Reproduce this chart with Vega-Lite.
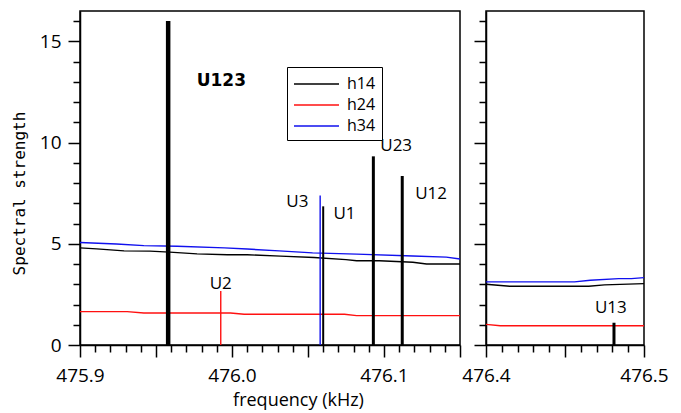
{
  "$schema": "https://vega.github.io/schema/vega-lite/v6.json",
  "padding": {"left": 10, "top": 10, "right": 5, "bottom": 5},
  "background": "white",
  "datasets": {
    "curves": [
      {"freq": 475.9, "value": 5.06, "series": "h34"},
      {"freq": 475.924, "value": 4.99, "series": "h34"},
      {"freq": 475.942, "value": 4.91, "series": "h34"},
      {"freq": 475.964, "value": 4.88, "series": "h34"},
      {"freq": 475.995, "value": 4.80, "series": "h34"},
      {"freq": 476.010, "value": 4.74, "series": "h34"},
      {"freq": 476.031, "value": 4.65, "series": "h34"},
      {"freq": 476.053, "value": 4.55, "series": "h34"},
      {"freq": 476.082, "value": 4.49, "series": "h34"},
      {"freq": 476.119, "value": 4.40, "series": "h34"},
      {"freq": 476.141, "value": 4.34, "series": "h34"},
      {"freq": 476.15, "value": 4.25, "series": "h34"},
      {"freq": 475.9, "value": 4.80, "series": "h14"},
      {"freq": 475.911, "value": 4.75, "series": "h14"},
      {"freq": 475.929, "value": 4.65, "series": "h14"},
      {"freq": 475.946, "value": 4.64, "series": "h14"},
      {"freq": 475.959, "value": 4.59, "series": "h14"},
      {"freq": 475.977, "value": 4.50, "series": "h14"},
      {"freq": 475.997, "value": 4.46, "series": "h14"},
      {"freq": 476.010, "value": 4.46, "series": "h14"},
      {"freq": 476.032, "value": 4.39, "series": "h14"},
      {"freq": 476.054, "value": 4.32, "series": "h14"},
      {"freq": 476.075, "value": 4.22, "series": "h14"},
      {"freq": 476.082, "value": 4.16, "series": "h14"},
      {"freq": 476.097, "value": 4.16, "series": "h14"},
      {"freq": 476.119, "value": 4.09, "series": "h14"},
      {"freq": 476.128, "value": 4.00, "series": "h14"},
      {"freq": 476.15, "value": 4.00, "series": "h14"},
      {"freq": 475.9, "value": 1.65, "series": "h24"},
      {"freq": 475.931, "value": 1.65, "series": "h24"},
      {"freq": 475.942, "value": 1.58, "series": "h24"},
      {"freq": 475.999, "value": 1.58, "series": "h24"},
      {"freq": 476.008, "value": 1.52, "series": "h24"},
      {"freq": 476.074, "value": 1.52, "series": "h24"},
      {"freq": 476.082, "value": 1.45, "series": "h24"},
      {"freq": 476.15, "value": 1.45, "series": "h24"},
      {"freq": 476.4, "value": 3.12, "series": "h34"},
      {"freq": 476.456, "value": 3.12, "series": "h34"},
      {"freq": 476.466, "value": 3.20, "series": "h34"},
      {"freq": 476.484, "value": 3.28, "series": "h34"},
      {"freq": 476.492, "value": 3.28, "series": "h34"},
      {"freq": 476.5, "value": 3.33, "series": "h34"},
      {"freq": 476.4, "value": 3.00, "series": "h14"},
      {"freq": 476.415, "value": 2.90, "series": "h14"},
      {"freq": 476.465, "value": 2.90, "series": "h14"},
      {"freq": 476.475, "value": 2.97, "series": "h14"},
      {"freq": 476.5, "value": 3.03, "series": "h14"},
      {"freq": 476.4, "value": 1.02, "series": "h24"},
      {"freq": 476.409, "value": 0.95, "series": "h24"},
      {"freq": 476.5, "value": 0.95, "series": "h24"}
    ],
    "peaks": [
      {"freq": 475.958, "value": 16.0, "series": "h14", "label": "U123"},
      {"freq": 475.9926, "value": 2.67, "series": "h24", "label": "U2"},
      {"freq": 476.058, "value": 7.39, "series": "h34", "label": "U3"},
      {"freq": 476.060, "value": 6.85, "series": "h14", "label": "U1"},
      {"freq": 476.093, "value": 9.32, "series": "h14", "label": "U23"},
      {"freq": 476.112, "value": 8.35, "series": "h14", "label": "U12"},
      {"freq": 476.481, "value": 1.10, "series": "h14", "label": "U13"}
    ],
    "labels": [
      {"freq": 475.993, "value": 13.02, "label": "U123"},
      {"freq": 475.9926, "value": 3.02, "label": "U2"},
      {"freq": 476.043, "value": 7.08, "label": "U3"},
      {"freq": 476.074, "value": 6.49, "label": "U1"},
      {"freq": 476.108, "value": 9.85, "label": "U23"},
      {"freq": 476.131, "value": 7.48, "label": "U12"},
      {"freq": 476.479, "value": 1.83, "label": "U13"}
    ]
  },
  "hconcat": [
    {
      "width": 380,
      "height": 334,
      "encoding": {
        "x": {
          "field": "freq", "type": "quantitative",
          "scale": {"domain": [475.9, 476.15], "nice": false, "zero": false},
          "axis": {
            "title": "frequency (kHz)",
            "titleX": 218,
            "titleFont": "Open Sans", "titleFontSize": 18, "titleFontWeight": "normal",
            "titlePadding": 6,
            "values": [475.9, 475.91, 475.92, 475.93, 475.94, 475.95, 475.96, 475.97, 475.98, 475.99, 476.0, 476.01, 476.02, 476.03, 476.04, 476.05, 476.06, 476.07, 476.08, 476.09, 476.1, 476.11, 476.12, 476.13, 476.14, 476.15],
            "tickSize": {"condition": {"test": "abs(datum.value*20 - round(datum.value*20)) < 0.01", "value": 12}, "value": 7},
            "labelExpr": "abs(datum.value*10 - round(datum.value*10)) < 0.01 ? format(datum.value, '.1f') : ''",
            "labelPadding": 9
          }
        },
        "y": {
          "field": "value", "type": "quantitative",
          "scale": {"domain": [0, 16.5], "nice": false},
          "axis": {
            "title": "Spectral strength",
            "titleFont": "DejaVu Sans Mono", "titleFontSize": 16, "titleFontWeight": "normal",
            "titlePadding": 12,
            "titleY": 182,
            "values": [0, 1, 2, 3, 4, 5, 6, 7, 8, 9, 10, 11, 12, 13, 14, 15, 16],
            "tickSize": {"condition": {"test": "datum.value % 5 == 0", "value": 12}, "value": 7},
            "labelExpr": "datum.value % 5 == 0 ? datum.label : ''",
            "labelPadding": 7
          }
        }
      },
      "layer": [
        {
          "data": {"name": "curves"},
          "transform": [{"filter": "datum.freq < 476.3"}],
          "mark": {"type": "line", "strokeWidth": 1.4},
          "encoding": {
            "color": {
              "field": "series", "type": "nominal",
              "scale": {"domain": ["h14", "h24", "h34"], "range": ["#000000", "#ff1010", "#1010ee"]},
              "legend": {
                "title": null, "orient": "none", "legendX": 207, "legendY": 56,
                "symbolType": "M-1,0H3.5", "symbolSize": 400, "symbolStrokeWidth": 1.4,
                "labelFont": "Open Sans", "labelFontSize": 16, "labelColor": "black",
                "labelOffset": 32, "rowPadding": 2, "padding": 6,
                "strokeColor": "black", "fillColor": "white"
              }
            }
          }
        },
        {
          "data": {"name": "peaks"},
          "transform": [{"filter": "datum.label == 'U123'"}],
          "mark": {"type": "rule", "strokeWidth": 4.5},
          "encoding": {"y2": {"datum": 0}, "color": {"field": "series", "type": "nominal"}}
        },
        {
          "data": {"name": "peaks"},
          "transform": [{"filter": "datum.label == 'U23' || datum.label == 'U12'"}],
          "mark": {"type": "rule", "strokeWidth": 3},
          "encoding": {"y2": {"datum": 0}, "color": {"field": "series", "type": "nominal"}}
        },
        {
          "data": {"name": "peaks"},
          "transform": [{"filter": "datum.label == 'U1'"}],
          "mark": {"type": "rule", "strokeWidth": 2},
          "encoding": {"y2": {"datum": 0}, "color": {"field": "series", "type": "nominal"}}
        },
        {
          "data": {"name": "peaks"},
          "transform": [{"filter": "datum.label == 'U3' || datum.label == 'U2'"}],
          "mark": {"type": "rule", "strokeWidth": 1.4},
          "encoding": {"y2": {"datum": 0}, "color": {"field": "series", "type": "nominal"}}
        },
        {
          "data": {"name": "labels"},
          "transform": [{"filter": "datum.freq < 476.3 && datum.label == 'U123'"}],
          "mark": {"type": "text", "font": "DejaVu Sans", "fontSize": 17, "fontWeight": 600, "baseline": "middle", "align": "center", "color": "black"},
          "encoding": {"text": {"field": "label"}}
        },
        {
          "data": {"name": "labels"},
          "transform": [{"filter": "datum.freq < 476.3 && datum.label != 'U123'"}],
          "mark": {"type": "text", "font": "Open Sans", "fontSize": 17, "baseline": "middle", "align": "center", "color": "black"},
          "encoding": {"text": {"field": "label"}}
        }
      ]
    },
    {
      "width": 158,
      "height": 334,
      "encoding": {
        "x": {
          "field": "freq", "type": "quantitative",
          "scale": {"domain": [476.4, 476.5], "nice": false, "zero": false},
          "axis": {
            "title": null,
            "values": [476.4, 476.41, 476.42, 476.43, 476.44, 476.45, 476.46, 476.47, 476.48, 476.49, 476.5],
            "tickSize": {"condition": {"test": "abs(datum.value*20 - round(datum.value*20)) < 0.01", "value": 12}, "value": 7},
            "labelExpr": "abs(datum.value*10 - round(datum.value*10)) < 0.01 ? format(datum.value, '.1f') : ''",
            "labelPadding": 9
          }
        },
        "y": {
          "field": "value", "type": "quantitative",
          "scale": {"domain": [0, 16.5], "nice": false},
          "axis": {
            "title": null,
            "labels": false,
            "values": [0, 1, 2, 3, 4, 5, 6, 7, 8, 9, 10, 11, 12, 13, 14, 15, 16],
            "tickSize": {"condition": {"test": "datum.value % 5 == 0", "value": 12}, "value": 7}
          }
        }
      },
      "layer": [
        {
          "data": {"name": "curves"},
          "transform": [{"filter": "datum.freq > 476.3"}],
          "mark": {"type": "line", "strokeWidth": 1.4},
          "encoding": {
            "color": {
              "field": "series", "type": "nominal",
              "scale": {"domain": ["h14", "h24", "h34"], "range": ["#000000", "#ff1010", "#1010ee"]},
              "legend": null
            }
          }
        },
        {
          "data": {"name": "peaks"},
          "transform": [{"filter": "datum.freq > 476.3"}],
          "mark": {"type": "rule", "strokeWidth": 3},
          "encoding": {"y2": {"datum": 0}, "color": {"field": "series", "type": "nominal", "legend": null}}
        },
        {
          "data": {"name": "labels"},
          "transform": [{"filter": "datum.freq > 476.3"}],
          "mark": {"type": "text", "font": "Open Sans", "fontSize": 17, "baseline": "middle", "align": "center", "color": "black"},
          "encoding": {"text": {"field": "label"}}
        }
      ]
    }
  ],
  "spacing": 26,
  "bounds": "flush",
  "resolve": {"scale": {"color": "independent"}},
  "config": {
    "view": {"stroke": "black", "strokeWidth": 1.5},
    "axis": {
      "grid": false,
      "domainColor": "black", "domainWidth": 1.5,
      "tickColor": "black", "tickWidth": 1.5,
      "labelFont": "Open Sans", "labelFontSize": 19, "labelColor": "black",
      "titleColor": "black",
      "labelOverlap": false, "labelFlush": false, "labelBound": false
    }
  }
}
